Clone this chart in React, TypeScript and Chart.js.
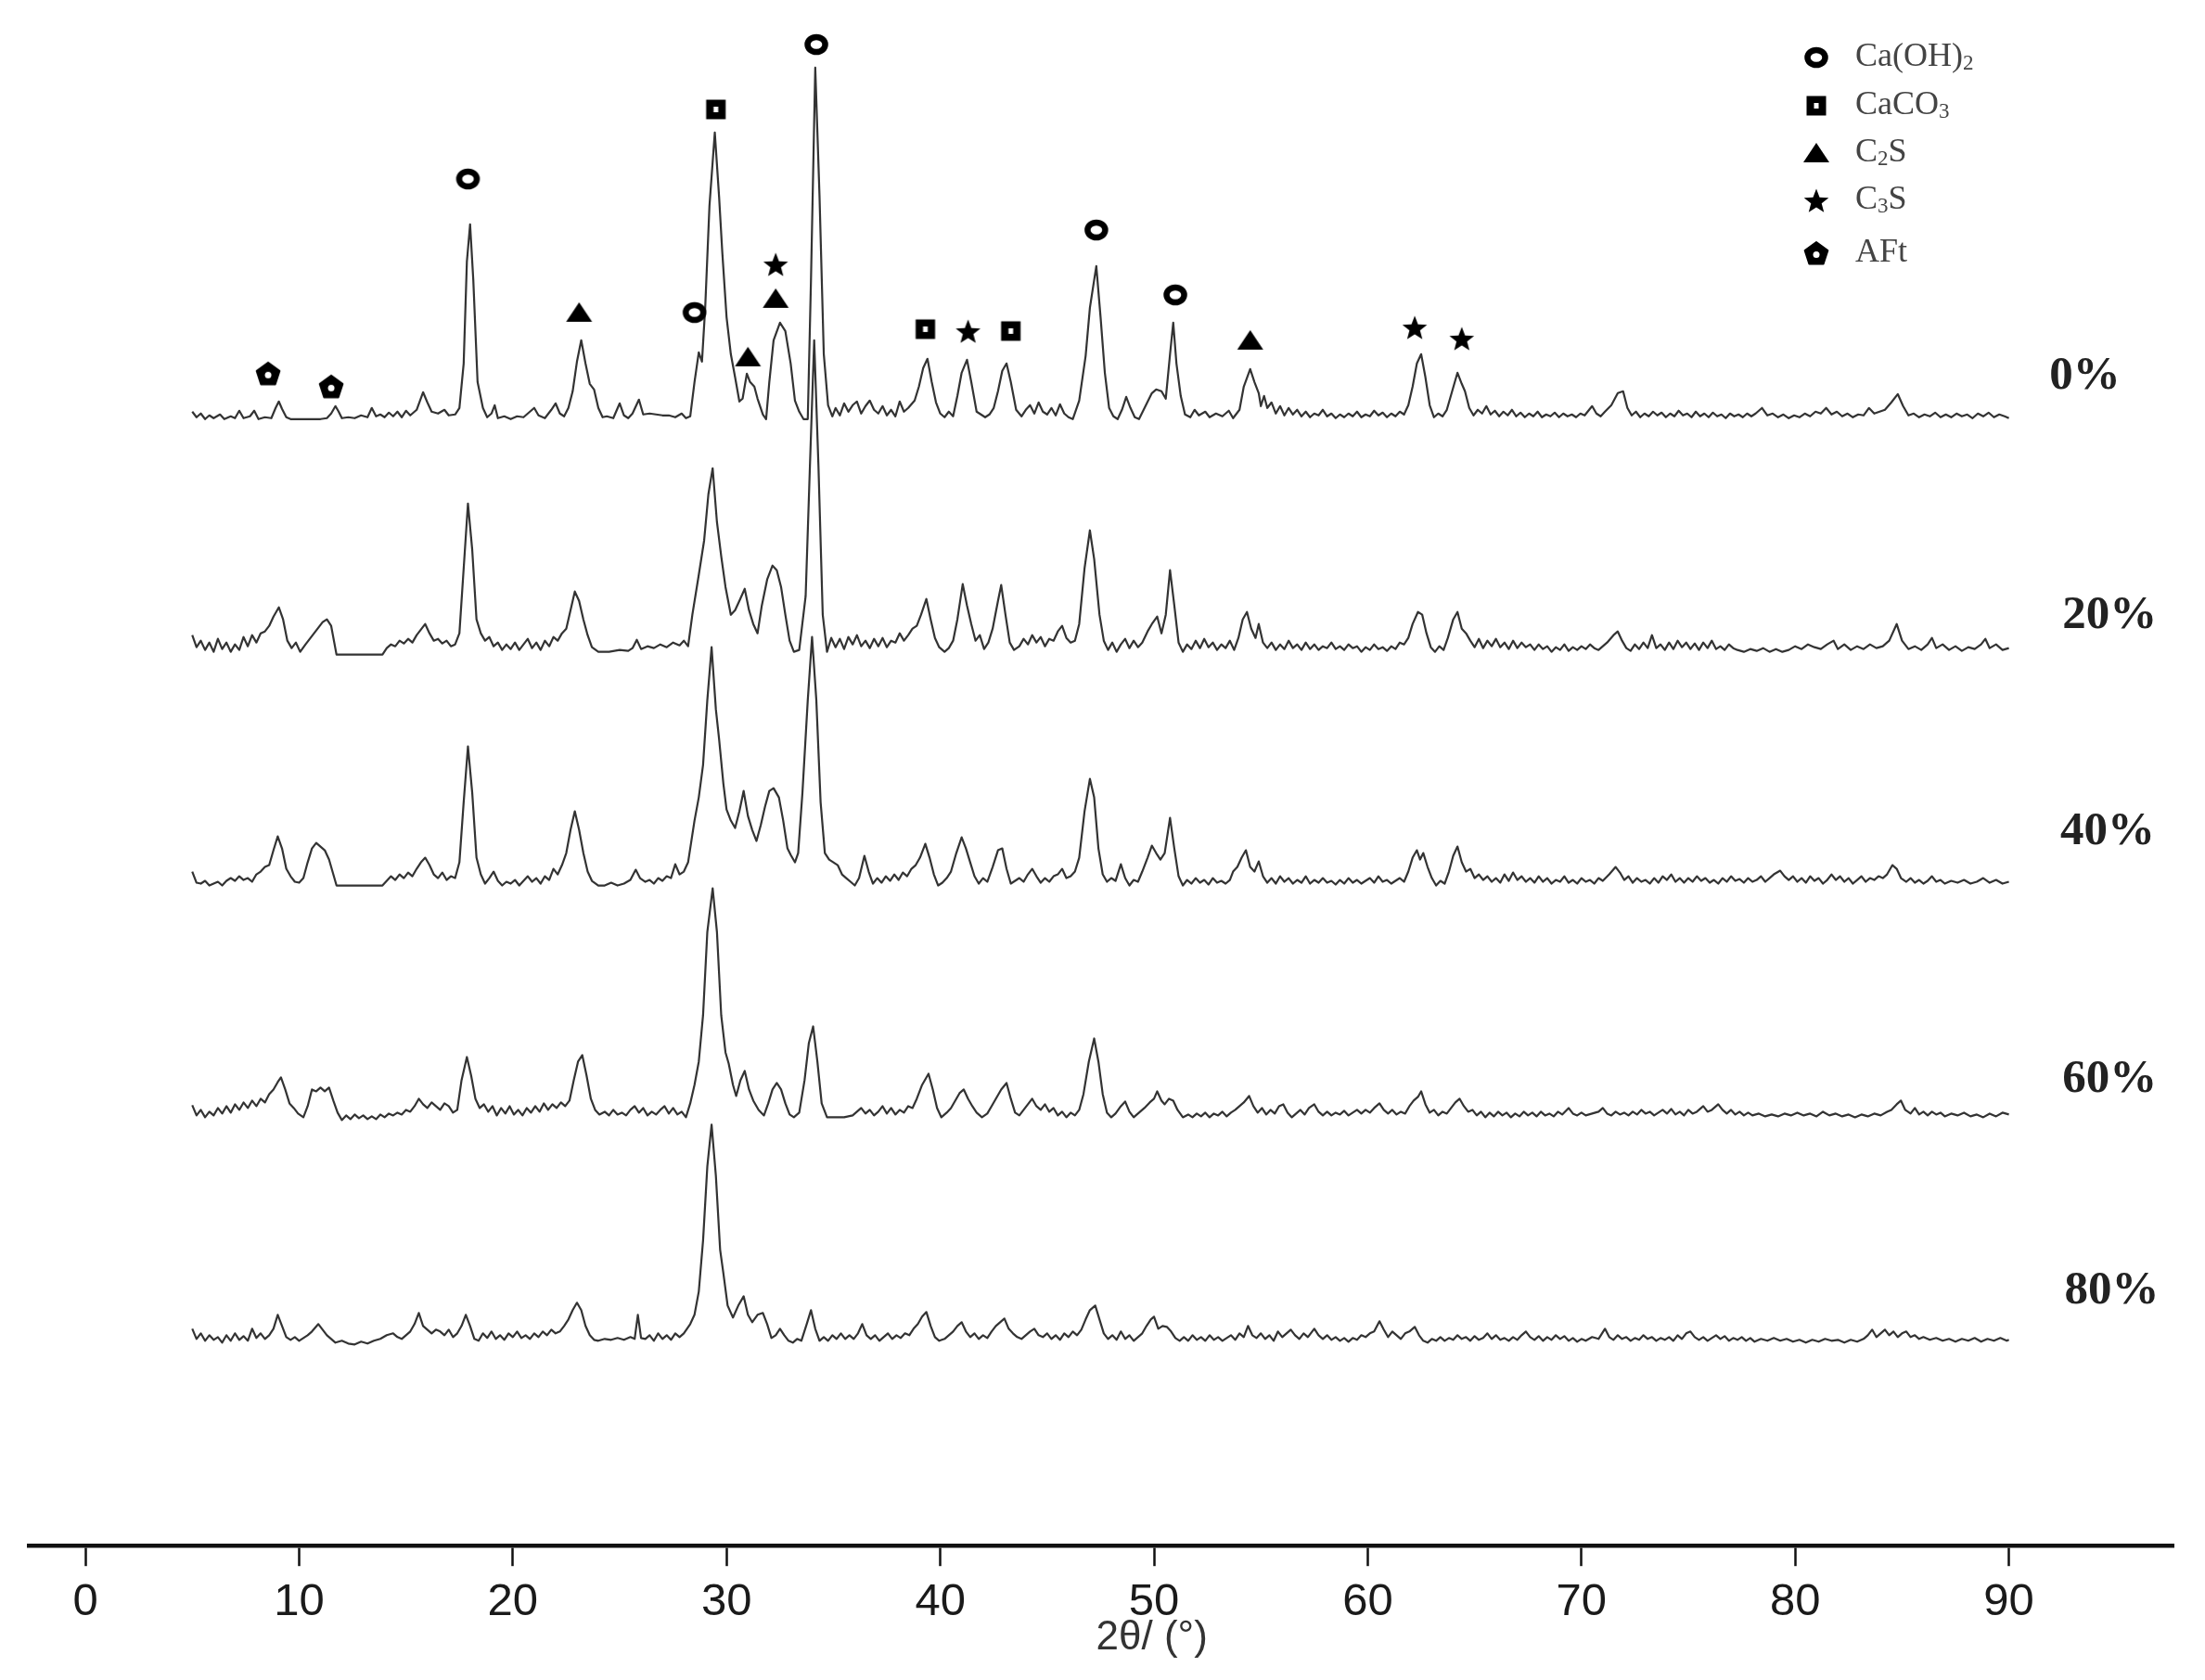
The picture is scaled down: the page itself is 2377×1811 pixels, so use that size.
import React, { useEffect, useRef } from "react";
import { Chart, registerables } from "chart.js";

Chart.register(...registerables);

// ---------------- data ----------------
const X_TICKS = [0, 10, 20, 30, 40, 50, 60, 70, 80, 90];
const SERIES_NAMES = ["0%", "20%", "40%", "60%", "80%"];
// vertical stacking offsets (a.u.) of each pattern
const OFFSETS = [1215, 964, 712, 462, 219];

// intensity above each pattern's own baseline, [2θ, I]
const S0 = [
  [5.0,8],[5.2,2],[5.4,6],[5.6,0],[5.8,4],[6.0,1],[6.3,5],[6.5,0],[6.8,3],[7.0,1],[7.2,9],[7.4,1],[7.7,3],[7.9,9],[8.1,0],[8.4,2],[8.7,1],[8.9,12],[9.05,19],[9.2,11],[9.4,2],[9.6,0],[10.0,0],[10.5,0],[11.0,0],[11.3,1],[11.5,6],[11.7,14],[11.85,8],[12.0,1],[12.3,2],[12.6,1],[12.9,4],[13.2,2],[13.4,12],[13.6,3],[13.8,5],[14.0,2],[14.2,7],[14.4,3],[14.6,8],[14.8,2],[15.0,9],[15.2,4],[15.5,10],[15.8,29],[16.0,18],[16.2,8],[16.5,6],[16.8,10],[17.0,4],[17.3,5],[17.5,12],[17.7,60],[17.85,170],[18.0,210],[18.15,150],[18.35,40],[18.6,12],[18.8,2],[19.0,6],[19.15,15],[19.3,1],[19.6,3],[19.9,0],[20.2,3],[20.5,2],[20.8,8],[21.0,12],[21.2,4],[21.5,1],[21.8,10],[22.0,17],[22.2,6],[22.4,3],[22.6,12],[22.8,30],[23.0,62],[23.2,85],[23.4,60],[23.6,38],[23.8,32],[24.0,12],[24.2,2],[24.4,3],[24.7,1],[25.0,17],[25.2,4],[25.4,1],[25.6,6],[25.9,21],[26.1,5],[26.4,6],[26.7,5],[27.0,4],[27.3,4],[27.6,2],[27.9,6],[28.1,1],[28.3,3],[28.5,40],[28.7,72],[28.85,62],[29.0,120],[29.2,230],[29.45,309],[29.65,240],[29.8,180],[30.0,110],[30.2,70],[30.4,45],[30.6,19],[30.75,22],[30.95,49],[31.1,40],[31.3,35],[31.45,22],[31.7,5],[31.85,0],[32.0,40],[32.2,85],[32.5,104],[32.75,95],[33.0,60],[33.2,20],[33.4,8],[33.6,0],[33.8,0],[33.95,150],[34.15,379],[34.35,240],[34.55,70],[34.75,15],[34.95,3],[35.1,12],[35.3,4],[35.5,17],[35.7,8],[35.9,15],[36.1,19],[36.3,6],[36.5,14],[36.7,20],[36.9,10],[37.1,6],[37.3,14],[37.5,4],[37.7,10],[37.9,3],[38.1,19],[38.3,8],[38.5,12],[38.8,20],[39.0,35],[39.2,55],[39.4,65],[39.6,40],[39.8,18],[40.0,6],[40.2,2],[40.4,8],[40.6,3],[40.8,25],[41.0,50],[41.25,64],[41.45,40],[41.7,8],[41.9,5],[42.1,2],[42.3,5],[42.5,12],[42.7,30],[42.9,52],[43.1,60],[43.3,40],[43.55,10],[43.8,3],[44.0,10],[44.2,15],[44.4,6],[44.6,18],[44.8,8],[45.0,5],[45.2,12],[45.4,4],[45.6,16],[45.8,6],[46.0,2],[46.2,0],[46.5,20],[46.8,68],[47.0,120],[47.3,165],[47.5,110],[47.7,50],[47.9,12],[48.1,3],[48.3,0],[48.5,10],[48.7,24],[48.9,12],[49.1,2],[49.3,0],[49.6,14],[49.9,28],[50.1,32],[50.35,30],[50.55,22],[50.75,70],[50.9,104],[51.05,60],[51.25,25],[51.45,5],[51.7,2],[51.9,10],[52.1,4],[52.4,8],[52.6,2],[52.9,6],[53.2,3],[53.5,9],[53.7,1],[54.0,10],[54.2,35],[54.5,54],[54.7,40],[54.9,28],[55.0,14],[55.15,25],[55.3,12],[55.5,18],[55.7,6],[55.9,14],[56.1,4],[56.3,12],[56.5,5],[56.7,10],[56.9,3],[57.1,8],[57.3,2],[57.5,6],[57.7,4],[57.9,10],[58.1,3],[58.3,6],[58.5,1],[58.7,5],[58.9,2],[59.1,6],[59.3,3],[59.5,8],[59.7,2],[59.9,5],[60.1,3],[60.3,9],[60.5,4],[60.7,7],[60.9,2],[61.1,6],[61.3,3],[61.5,8],[61.7,5],[61.9,15],[62.1,35],[62.3,60],[62.5,70],[62.7,45],[62.9,15],[63.1,2],[63.3,6],[63.5,3],[63.7,10],[63.95,30],[64.2,50],[64.4,38],[64.55,30],[64.75,12],[64.95,4],[65.15,10],[65.35,6],[65.55,14],[65.75,5],[65.95,9],[66.15,3],[66.35,8],[66.55,4],[66.75,10],[66.95,3],[67.15,7],[67.35,2],[67.55,6],[67.75,3],[67.95,8],[68.15,2],[68.35,5],[68.55,3],[68.75,7],[68.95,2],[69.15,6],[69.35,3],[69.55,5],[69.75,2],[69.95,6],[70.15,4],[70.5,14],[70.7,6],[70.9,3],[71.1,8],[71.4,15],[71.7,28],[71.95,30],[72.15,12],[72.35,4],[72.55,8],[72.75,2],[72.95,6],[73.15,3],[73.35,8],[73.55,4],[73.75,7],[73.95,2],[74.15,6],[74.35,3],[74.55,9],[74.75,4],[74.95,6],[75.15,2],[75.35,8],[75.55,3],[75.75,6],[75.95,2],[76.15,7],[76.35,3],[76.55,5],[76.75,1],[76.95,6],[77.15,3],[77.35,5],[77.55,2],[77.75,6],[77.95,3],[78.15,6],[78.45,12],[78.7,4],[78.95,6],[79.2,2],[79.45,5],[79.7,1],[79.95,4],[80.2,2],[80.45,6],[80.7,3],[80.95,8],[81.2,6],[81.45,12],[81.7,5],[81.95,8],[82.2,3],[82.45,6],[82.7,2],[82.95,5],[83.2,4],[83.45,12],[83.7,6],[83.95,8],[84.2,10],[84.5,18],[84.8,27],[85.05,14],[85.3,4],[85.55,6],[85.8,2],[86.05,5],[86.3,3],[86.55,7],[86.8,2],[87.05,5],[87.3,2],[87.55,6],[87.8,3],[88.05,5],[88.3,1],[88.55,6],[88.8,3],[89.05,7],[89.3,2],[89.55,5],[89.8,3],[90.0,1]
];

const S20 = [
  [5.0,18],[5.2,5],[5.4,12],[5.6,2],[5.8,10],[6.0,0],[6.2,14],[6.4,3],[6.6,10],[6.8,0],[7.0,8],[7.2,2],[7.4,16],[7.6,6],[7.8,18],[8.0,10],[8.2,20],[8.4,22],[8.6,28],[8.8,38],[9.05,48],[9.25,35],[9.45,12],[9.65,4],[9.85,10],[10.05,0],[10.3,8],[10.5,14],[10.7,20],[10.9,26],[11.1,32],[11.3,35],[11.5,28],[11.75,-3],[13.9,-3],[14.1,4],[14.3,8],[14.5,6],[14.7,12],[14.9,9],[15.1,14],[15.3,10],[15.5,18],[15.7,24],[15.9,30],[16.1,20],[16.3,12],[16.5,14],[16.7,9],[16.9,12],[17.1,6],[17.3,8],[17.5,20],[17.7,90],[17.9,160],[18.1,110],[18.3,35],[18.5,20],[18.7,12],[18.9,16],[19.1,6],[19.3,10],[19.5,2],[19.7,8],[19.9,3],[20.1,10],[20.3,2],[20.5,8],[20.7,14],[20.9,4],[21.1,10],[21.3,2],[21.5,12],[21.7,6],[21.9,16],[22.1,12],[22.3,20],[22.5,25],[22.7,45],[22.9,65],[23.1,55],[23.3,35],[23.5,18],[23.7,5],[24.0,0],[24.5,0],[25.0,2],[25.4,1],[25.6,4],[25.8,13],[26.0,3],[26.3,6],[26.6,4],[26.9,8],[27.2,5],[27.5,10],[27.8,7],[28.0,12],[28.2,6],[28.4,40],[28.7,83],[28.95,120],[29.15,170],[29.35,198],[29.55,140],[29.75,103],[29.95,70],[30.2,40],[30.4,45],[30.6,55],[30.85,68],[31.05,45],[31.25,30],[31.45,20],[31.65,50],[31.9,78],[32.15,93],[32.35,88],[32.55,70],[32.75,40],[32.95,12],[33.15,0],[33.4,2],[33.7,60],[33.9,200],[34.1,336],[34.3,200],[34.5,40],[34.7,0],[34.9,15],[35.1,5],[35.3,14],[35.5,3],[35.7,16],[35.9,8],[36.1,18],[36.3,6],[36.5,12],[36.7,4],[36.9,14],[37.1,6],[37.3,15],[37.5,5],[37.7,12],[37.9,10],[38.1,20],[38.3,12],[38.5,18],[38.7,25],[38.9,28],[39.1,40],[39.35,57],[39.55,35],[39.75,15],[39.95,5],[40.2,0],[40.4,4],[40.6,12],[40.8,35],[41.05,73],[41.25,50],[41.45,30],[41.65,12],[41.85,18],[42.05,3],[42.25,10],[42.45,25],[42.7,55],[42.85,72],[43.05,40],[43.25,10],[43.45,2],[43.7,6],[43.9,14],[44.1,8],[44.3,18],[44.5,10],[44.7,16],[44.9,6],[45.1,14],[45.3,12],[45.5,22],[45.7,28],[45.9,15],[46.1,10],[46.3,12],[46.5,30],[46.75,90],[47.0,131],[47.2,100],[47.45,40],[47.65,12],[47.85,2],[48.05,10],[48.25,0],[48.45,8],[48.65,14],[48.85,4],[49.05,12],[49.25,5],[49.45,10],[49.7,22],[49.9,30],[50.15,38],[50.35,20],[50.55,40],[50.75,88],[50.95,50],[51.15,10],[51.35,0],[51.55,8],[51.75,3],[51.95,12],[52.15,4],[52.35,14],[52.55,5],[52.75,10],[52.95,2],[53.15,8],[53.35,4],[53.55,12],[53.75,2],[53.95,15],[54.15,35],[54.35,43],[54.55,25],[54.75,15],[54.9,30],[55.1,10],[55.3,4],[55.5,10],[55.7,2],[55.9,8],[56.1,3],[56.3,12],[56.5,4],[56.7,8],[56.9,2],[57.1,10],[57.3,3],[57.5,8],[57.7,2],[57.9,6],[58.1,4],[58.3,10],[58.5,3],[58.7,6],[58.9,2],[59.1,8],[59.3,4],[59.5,6],[59.7,0],[59.9,5],[60.1,2],[60.3,8],[60.5,3],[60.7,5],[60.9,1],[61.1,6],[61.3,3],[61.5,10],[61.7,8],[61.9,15],[62.1,30],[62.35,43],[62.55,40],[62.75,20],[62.95,5],[63.15,0],[63.35,6],[63.55,2],[63.75,15],[64.0,35],[64.2,43],[64.4,25],[64.6,20],[64.8,12],[65.0,5],[65.2,14],[65.4,4],[65.6,12],[65.8,6],[66.0,14],[66.2,5],[66.4,10],[66.6,3],[66.8,12],[67.0,4],[67.2,10],[67.4,5],[67.6,8],[67.8,2],[68.0,8],[68.2,3],[68.4,6],[68.6,0],[68.8,5],[69.0,2],[69.2,8],[69.4,1],[69.6,5],[69.8,2],[70.0,6],[70.2,3],[70.4,8],[70.6,4],[70.8,2],[71.0,6],[71.2,10],[71.5,18],[71.7,22],[71.9,12],[72.1,4],[72.3,1],[72.5,8],[72.7,3],[72.9,10],[73.1,4],[73.3,18],[73.5,4],[73.7,8],[73.9,2],[74.1,10],[74.3,3],[74.5,12],[74.7,5],[74.9,10],[75.1,3],[75.3,9],[75.5,2],[75.7,10],[75.9,4],[76.1,12],[76.3,3],[76.5,6],[76.7,2],[76.9,8],[77.1,4],[77.3,2],[77.6,0],[77.9,3],[78.2,1],[78.5,4],[78.8,0],[79.1,3],[79.4,0],[79.7,2],[80.0,6],[80.3,3],[80.6,8],[80.9,5],[81.2,3],[81.5,8],[81.8,12],[82.0,3],[82.3,8],[82.6,2],[82.9,6],[83.2,3],[83.5,8],[83.8,4],[84.1,6],[84.4,12],[84.75,30],[85.0,12],[85.3,3],[85.6,6],[85.9,2],[86.2,8],[86.4,15],[86.6,4],[86.9,8],[87.2,2],[87.5,6],[87.8,1],[88.1,5],[88.4,3],[88.7,8],[88.9,14],[89.1,4],[89.4,8],[89.7,2],[90.0,4]
];

const S40 = [
  [5.0,15],[5.2,3],[5.4,2],[5.6,5],[5.8,0],[6.0,2],[6.2,4],[6.4,0],[6.6,5],[6.8,8],[7.0,5],[7.2,10],[7.4,6],[7.6,8],[7.8,4],[8.0,12],[8.2,15],[8.4,20],[8.6,22],[8.8,38],[9.0,53],[9.2,40],[9.4,18],[9.6,10],[9.8,4],[10.0,3],[10.2,8],[10.4,25],[10.6,40],[10.8,46],[11.0,42],[11.2,38],[11.4,28],[11.6,12],[11.75,0],[13.9,0],[14.1,5],[14.3,10],[14.5,6],[14.7,12],[14.9,8],[15.1,14],[15.3,10],[15.5,18],[15.7,25],[15.9,30],[16.1,22],[16.3,12],[16.5,8],[16.7,14],[16.9,6],[17.1,10],[17.3,8],[17.5,25],[17.7,90],[17.9,150],[18.1,100],[18.3,30],[18.5,12],[18.7,2],[18.9,8],[19.1,15],[19.3,5],[19.5,0],[19.7,4],[19.9,2],[20.1,6],[20.3,0],[20.5,5],[20.7,10],[20.9,4],[21.1,8],[21.3,2],[21.5,10],[21.7,6],[21.9,18],[22.1,12],[22.3,22],[22.5,35],[22.7,60],[22.9,80],[23.1,60],[23.3,35],[23.5,15],[23.7,5],[24.0,0],[24.3,0],[24.6,3],[24.9,0],[25.2,2],[25.5,6],[25.75,17],[25.95,8],[26.2,4],[26.4,6],[26.6,2],[26.8,8],[27.0,5],[27.2,10],[27.4,8],[27.6,23],[27.8,12],[28.0,15],[28.2,25],[28.5,70],[28.7,95],[28.9,130],[29.1,200],[29.3,257],[29.5,190],[29.65,158],[29.85,110],[30.0,82],[30.2,70],[30.4,62],[30.6,80],[30.8,102],[31.0,75],[31.2,60],[31.4,48],[31.6,65],[31.8,85],[32.0,102],[32.2,105],[32.45,95],[32.65,70],[32.85,40],[33.0,33],[33.2,25],[33.35,35],[33.55,100],[33.8,200],[34.0,268],[34.2,200],[34.4,90],[34.6,35],[34.8,28],[35.0,25],[35.2,22],[35.4,12],[35.6,8],[35.8,4],[36.0,0],[36.2,8],[36.45,32],[36.65,15],[36.85,2],[37.05,8],[37.25,3],[37.45,10],[37.65,5],[37.85,12],[38.05,6],[38.25,14],[38.45,10],[38.65,18],[38.85,22],[39.05,30],[39.3,45],[39.5,30],[39.7,12],[39.9,0],[40.1,3],[40.3,8],[40.5,15],[40.75,35],[41.0,52],[41.2,40],[41.4,25],[41.6,10],[41.8,2],[42.0,8],[42.2,4],[42.45,20],[42.7,38],[42.9,40],[43.1,18],[43.3,2],[43.5,5],[43.7,8],[43.9,4],[44.1,12],[44.3,18],[44.5,10],[44.7,3],[44.9,8],[45.1,4],[45.3,10],[45.5,12],[45.7,18],[45.9,8],[46.1,10],[46.3,15],[46.5,30],[46.75,80],[47.0,115],[47.2,95],[47.4,40],[47.6,12],[47.8,4],[48.0,8],[48.2,5],[48.45,23],[48.65,8],[48.85,0],[49.05,6],[49.25,4],[49.45,15],[49.7,30],[49.9,43],[50.1,35],[50.3,28],[50.5,35],[50.75,73],[50.95,40],[51.15,10],[51.35,0],[51.55,6],[51.75,2],[51.95,8],[52.15,3],[52.35,6],[52.55,1],[52.75,8],[52.95,3],[53.15,5],[53.35,2],[53.55,6],[53.7,15],[53.9,20],[54.1,30],[54.3,38],[54.5,20],[54.7,15],[54.9,26],[55.1,10],[55.3,3],[55.5,8],[55.7,2],[55.9,10],[56.1,4],[56.3,8],[56.5,2],[56.7,6],[56.9,3],[57.1,10],[57.3,2],[57.5,6],[57.7,3],[57.9,8],[58.1,3],[58.3,5],[58.5,1],[58.7,6],[58.9,2],[59.1,8],[59.3,3],[59.5,6],[59.7,2],[59.9,5],[60.1,8],[60.3,3],[60.5,10],[60.7,4],[60.9,6],[61.1,2],[61.3,5],[61.5,8],[61.7,4],[61.9,15],[62.1,30],[62.3,38],[62.45,28],[62.6,35],[62.8,20],[63.0,8],[63.2,0],[63.4,5],[63.6,2],[63.8,15],[64.0,32],[64.2,42],[64.4,25],[64.6,15],[64.8,18],[65.0,8],[65.2,12],[65.4,6],[65.6,10],[65.8,4],[66.0,8],[66.2,3],[66.4,12],[66.6,5],[66.8,14],[67.0,6],[67.2,10],[67.4,4],[67.6,8],[67.8,3],[68.0,10],[68.2,4],[68.4,8],[68.6,2],[68.8,6],[69.0,4],[69.2,10],[69.4,3],[69.6,6],[69.8,2],[70.0,8],[70.2,4],[70.4,6],[70.6,2],[70.8,8],[71.0,5],[71.3,12],[71.6,20],[71.8,14],[72.0,6],[72.2,10],[72.4,3],[72.6,8],[72.8,4],[73.0,6],[73.2,2],[73.4,8],[73.6,3],[73.8,10],[74.0,6],[74.2,12],[74.4,4],[74.6,8],[74.8,3],[75.0,8],[75.2,4],[75.4,10],[75.6,5],[75.8,8],[76.0,3],[76.2,6],[76.4,2],[76.6,8],[76.8,4],[77.0,10],[77.2,5],[77.4,7],[77.6,3],[77.8,8],[78.0,4],[78.2,6],[78.4,10],[78.6,4],[78.8,8],[79.0,12],[79.3,16],[79.5,10],[79.7,6],[79.9,10],[80.1,4],[80.3,8],[80.5,3],[80.7,10],[80.9,5],[81.1,8],[81.3,2],[81.5,6],[81.7,12],[81.9,6],[82.1,10],[82.3,4],[82.5,8],[82.7,2],[82.9,6],[83.1,10],[83.3,4],[83.5,8],[83.7,6],[83.9,10],[84.1,8],[84.3,12],[84.55,22],[84.75,18],[84.95,8],[85.2,4],[85.4,8],[85.6,3],[85.8,6],[86.0,2],[86.2,5],[86.4,10],[86.6,4],[86.8,6],[87.0,2],[87.3,5],[87.6,3],[87.9,6],[88.2,2],[88.5,4],[88.8,8],[89.1,3],[89.4,6],[89.7,2],[90.0,4]
];

const S60 = [
  [5.0,13],[5.2,2],[5.4,8],[5.6,0],[5.8,6],[6.0,2],[6.2,10],[6.4,4],[6.6,12],[6.8,5],[7.0,14],[7.2,8],[7.4,16],[7.6,10],[7.8,18],[8.0,12],[8.2,20],[8.4,16],[8.6,25],[8.8,30],[9.0,38],[9.15,43],[9.35,30],[9.55,15],[9.75,10],[9.95,4],[10.2,0],[10.4,12],[10.6,30],[10.8,28],[11.0,32],[11.2,28],[11.4,32],[11.6,18],[11.8,5],[12.0,-3],[12.2,2],[12.4,-2],[12.6,3],[12.8,-1],[13.0,2],[13.2,-2],[13.4,1],[13.6,-2],[13.8,3],[14.0,0],[14.2,4],[14.4,2],[14.6,5],[14.8,3],[15.0,8],[15.2,6],[15.4,12],[15.6,20],[15.8,14],[16.0,10],[16.2,16],[16.4,12],[16.6,8],[16.8,15],[17.0,12],[17.2,5],[17.4,8],[17.6,40],[17.85,65],[18.05,45],[18.25,20],[18.45,10],[18.65,14],[18.85,6],[19.05,12],[19.25,2],[19.45,10],[19.65,4],[19.85,12],[20.05,3],[20.25,8],[20.45,2],[20.65,10],[20.85,5],[21.05,12],[21.25,6],[21.45,15],[21.65,8],[21.85,14],[22.05,10],[22.25,16],[22.45,12],[22.65,18],[22.85,40],[23.05,60],[23.25,67],[23.45,45],[23.65,20],[23.85,8],[24.05,3],[24.3,6],[24.5,2],[24.7,8],[24.9,3],[25.1,5],[25.3,2],[25.5,8],[25.7,12],[25.9,5],[26.1,10],[26.3,2],[26.5,6],[26.7,3],[26.9,8],[27.1,12],[27.3,4],[27.5,10],[27.7,3],[27.9,6],[28.1,0],[28.3,15],[28.5,35],[28.7,60],[28.9,110],[29.1,200],[29.35,247],[29.55,200],[29.75,110],[29.95,70],[30.1,58],[30.3,35],[30.45,23],[30.65,40],[30.85,50],[31.05,30],[31.25,18],[31.5,8],[31.75,2],[31.95,15],[32.15,30],[32.35,37],[32.55,30],[32.75,15],[32.95,3],[33.15,0],[33.4,5],[33.65,40],[33.85,80],[34.05,98],[34.25,60],[34.45,15],[34.7,0],[35.0,0],[35.5,0],[35.9,2],[36.1,6],[36.3,10],[36.5,4],[36.7,8],[36.9,2],[37.1,6],[37.3,12],[37.5,4],[37.7,10],[37.9,3],[38.1,8],[38.3,5],[38.5,12],[38.7,10],[38.9,20],[39.15,35],[39.45,47],[39.65,30],[39.85,10],[40.05,0],[40.3,5],[40.5,10],[40.7,18],[40.9,26],[41.1,30],[41.3,20],[41.5,12],[41.7,5],[41.95,0],[42.2,4],[42.4,12],[42.6,20],[42.85,30],[43.1,37],[43.3,20],[43.5,5],[43.7,2],[43.9,8],[44.1,14],[44.3,20],[44.5,12],[44.7,8],[44.9,14],[45.1,6],[45.3,10],[45.5,2],[45.7,6],[45.9,0],[46.1,5],[46.3,2],[46.5,8],[46.7,25],[46.95,60],[47.2,85],[47.4,60],[47.6,25],[47.8,5],[48.0,0],[48.2,4],[48.45,12],[48.65,17],[48.85,6],[49.05,0],[49.3,5],[49.55,10],[49.8,16],[50.0,20],[50.15,28],[50.35,18],[50.5,14],[50.7,20],[50.9,18],[51.1,8],[51.35,0],[51.6,3],[51.8,0],[52.0,4],[52.2,1],[52.4,5],[52.6,0],[52.8,4],[53.0,2],[53.2,6],[53.4,1],[53.6,5],[53.8,8],[54.0,12],[54.2,16],[54.45,23],[54.65,12],[54.85,5],[55.05,10],[55.25,3],[55.45,8],[55.65,4],[55.85,12],[56.05,14],[56.25,5],[56.45,0],[56.65,4],[56.85,8],[57.05,3],[57.25,10],[57.5,14],[57.7,6],[57.9,2],[58.1,6],[58.3,2],[58.5,5],[58.7,3],[58.9,7],[59.1,2],[59.3,5],[59.5,8],[59.7,4],[59.9,8],[60.1,5],[60.3,10],[60.55,15],[60.75,8],[60.95,4],[61.15,8],[61.35,3],[61.55,6],[61.75,4],[61.95,12],[62.15,18],[62.35,22],[62.5,28],[62.7,14],[62.9,5],[63.1,8],[63.3,2],[63.5,6],[63.7,4],[63.9,10],[64.1,16],[64.3,20],[64.5,12],[64.7,6],[64.9,8],[65.1,2],[65.3,6],[65.5,0],[65.7,5],[65.9,1],[66.1,6],[66.3,2],[66.5,5],[66.7,0],[66.9,4],[67.1,1],[67.3,6],[67.5,2],[67.7,5],[67.9,1],[68.1,6],[68.3,2],[68.5,4],[68.7,1],[68.9,6],[69.1,3],[69.4,10],[69.6,4],[69.8,2],[70.0,5],[70.2,2],[70.5,4],[70.8,6],[71.0,10],[71.2,4],[71.4,2],[71.6,6],[71.8,3],[72.0,5],[72.2,2],[72.4,6],[72.6,3],[72.8,8],[73.0,4],[73.2,6],[73.4,2],[73.6,5],[73.8,8],[74.0,4],[74.2,9],[74.4,3],[74.6,6],[74.8,2],[75.0,8],[75.2,4],[75.4,6],[75.7,12],[75.9,6],[76.1,8],[76.4,14],[76.6,8],[76.8,4],[77.0,8],[77.2,3],[77.4,6],[77.6,2],[77.8,5],[78.0,2],[78.3,4],[78.6,1],[78.9,3],[79.2,1],[79.5,4],[79.8,2],[80.1,5],[80.4,2],[80.7,4],[81.0,1],[81.3,6],[81.6,2],[81.9,4],[82.2,1],[82.5,3],[82.8,0],[83.1,3],[83.4,1],[83.7,4],[84.0,2],[84.3,6],[84.5,8],[84.75,14],[84.95,18],[85.15,8],[85.4,4],[85.6,10],[85.8,3],[86.0,6],[86.2,2],[86.4,6],[86.6,3],[86.8,5],[87.0,1],[87.3,4],[87.6,2],[87.9,5],[88.2,1],[88.5,3],[88.8,0],[89.1,4],[89.4,1],[89.7,5],[90.0,3]
];

const S80 = [
  [5.0,15],[5.2,4],[5.4,10],[5.6,2],[5.8,8],[6.0,3],[6.2,6],[6.4,0],[6.6,8],[6.8,2],[7.0,10],[7.2,3],[7.4,7],[7.6,2],[7.8,15],[8.0,5],[8.2,10],[8.4,4],[8.6,8],[8.8,15],[9.0,30],[9.2,18],[9.4,6],[9.6,3],[9.8,6],[10.0,2],[10.2,5],[10.4,8],[10.6,12],[10.9,20],[11.1,14],[11.3,8],[11.5,4],[11.7,0],[12.0,2],[12.3,-1],[12.6,-2],[12.9,1],[13.2,-1],[13.5,2],[13.8,4],[14.1,8],[14.4,10],[14.6,6],[14.8,4],[15.0,8],[15.2,12],[15.4,20],[15.6,32],[15.8,18],[16.0,14],[16.2,10],[16.4,14],[16.6,12],[16.8,8],[17.0,14],[17.2,6],[17.4,10],[17.6,18],[17.8,30],[18.0,18],[18.2,4],[18.4,2],[18.6,10],[18.8,5],[19.0,12],[19.2,4],[19.4,8],[19.6,3],[19.8,10],[20.0,6],[20.2,12],[20.4,5],[20.6,8],[20.8,4],[21.0,10],[21.2,6],[21.4,12],[21.6,8],[21.8,14],[22.0,10],[22.2,12],[22.4,18],[22.6,25],[22.8,35],[23.0,43],[23.2,35],[23.4,18],[23.6,8],[23.8,3],[24.0,2],[24.3,4],[24.6,3],[24.9,5],[25.2,3],[25.5,6],[25.7,4],[25.85,30],[26.0,5],[26.2,4],[26.4,8],[26.6,2],[26.8,10],[27.0,4],[27.2,8],[27.4,3],[27.6,10],[27.8,6],[28.0,10],[28.3,20],[28.5,30],[28.7,55],[28.9,110],[29.1,190],[29.3,235],[29.5,180],[29.7,100],[29.85,75],[30.05,40],[30.3,27],[30.55,40],[30.8,50],[31.0,30],[31.2,22],[31.45,30],[31.7,32],[31.9,20],[32.1,5],[32.3,8],[32.5,15],[32.7,8],[32.9,2],[33.1,0],[33.3,4],[33.5,2],[33.75,20],[33.95,35],[34.15,15],[34.35,2],[34.55,6],[34.75,2],[34.95,8],[35.15,4],[35.35,10],[35.55,4],[35.75,8],[35.95,4],[36.15,10],[36.35,20],[36.55,8],[36.75,4],[36.95,8],[37.15,2],[37.35,6],[37.55,10],[37.75,4],[37.95,8],[38.15,5],[38.35,10],[38.55,8],[38.75,15],[38.95,20],[39.15,28],[39.35,33],[39.55,18],[39.75,6],[39.95,2],[40.2,4],[40.4,8],[40.6,12],[40.8,18],[41.0,22],[41.2,12],[41.4,6],[41.6,10],[41.8,4],[42.0,8],[42.2,5],[42.4,12],[42.6,18],[42.8,22],[43.0,26],[43.2,15],[43.4,10],[43.6,6],[43.8,4],[44.0,8],[44.2,12],[44.4,15],[44.6,8],[44.8,6],[45.0,10],[45.2,4],[45.4,8],[45.6,3],[45.8,10],[46.0,6],[46.2,12],[46.4,8],[46.6,14],[46.8,25],[47.0,35],[47.25,40],[47.45,25],[47.65,10],[47.85,4],[48.05,8],[48.25,3],[48.45,12],[48.65,4],[48.85,8],[49.05,2],[49.25,6],[49.45,10],[49.65,18],[49.85,25],[50.0,28],[50.2,15],[50.4,18],[50.6,17],[50.8,12],[51.0,5],[51.2,2],[51.4,6],[51.6,2],[51.8,8],[52.0,3],[52.2,6],[52.4,2],[52.6,8],[52.8,3],[53.0,6],[53.2,2],[53.4,5],[53.6,8],[53.8,3],[54.0,10],[54.2,6],[54.4,18],[54.6,8],[54.8,5],[55.0,10],[55.2,4],[55.4,8],[55.6,2],[55.8,12],[56.0,6],[56.2,10],[56.4,14],[56.6,8],[56.8,4],[57.0,10],[57.2,6],[57.5,15],[57.7,8],[57.9,4],[58.1,8],[58.3,3],[58.5,6],[58.7,2],[58.9,5],[59.1,1],[59.3,5],[59.5,3],[59.7,8],[59.9,6],[60.1,10],[60.3,12],[60.55,23],[60.75,14],[60.95,6],[61.15,12],[61.35,8],[61.55,4],[61.75,10],[61.95,12],[62.2,17],[62.4,8],[62.6,2],[62.8,0],[63.0,4],[63.2,2],[63.4,6],[63.6,2],[63.8,5],[64.0,3],[64.2,8],[64.4,4],[64.6,6],[64.8,2],[65.0,7],[65.2,3],[65.4,5],[65.6,10],[65.8,4],[66.0,8],[66.2,3],[66.4,5],[66.6,2],[66.8,6],[67.0,3],[67.2,8],[67.4,12],[67.6,6],[67.8,3],[68.0,7],[68.2,2],[68.4,6],[68.6,3],[68.8,8],[69.0,4],[69.2,7],[69.4,2],[69.6,5],[69.8,1],[70.0,4],[70.2,2],[70.5,6],[70.8,4],[71.1,15],[71.3,6],[71.5,3],[71.7,8],[71.9,4],[72.1,6],[72.3,2],[72.5,5],[72.7,3],[72.9,8],[73.1,4],[73.3,6],[73.5,2],[73.7,5],[73.9,3],[74.1,6],[74.3,2],[74.5,8],[74.7,4],[74.9,10],[75.1,12],[75.3,6],[75.5,3],[75.7,6],[75.9,2],[76.1,5],[76.3,8],[76.5,4],[76.7,7],[76.9,2],[77.1,5],[77.3,3],[77.5,6],[77.7,2],[77.9,5],[78.1,1],[78.4,4],[78.7,2],[79.0,5],[79.3,2],[79.6,4],[79.9,1],[80.2,3],[80.5,0],[80.8,3],[81.1,1],[81.4,4],[81.7,2],[82.0,3],[82.3,0],[82.6,3],[82.9,1],[83.2,4],[83.4,8],[83.6,14],[83.8,6],[84.0,10],[84.2,14],[84.4,8],[84.6,12],[84.8,6],[85.0,10],[85.2,12],[85.4,6],[85.6,8],[85.8,4],[86.0,6],[86.3,3],[86.6,5],[86.9,2],[87.2,4],[87.5,1],[87.8,4],[88.1,2],[88.4,5],[88.7,1],[89.0,4],[89.3,2],[89.6,5],[89.9,2],[90.0,3]
];

// phase markers [2θ, level in chart units]
const CAOH2_MARKS = [[17.9, 1474], [28.5, 1330], [34.2, 1619], [47.3, 1419], [51.0, 1349]];
const CACO3_MARKS = [[29.5, 1549], [39.3, 1312], [43.3, 1310]];
const C2S_MARKS = [[23.1, 1330], [31.0, 1282], [32.3, 1345], [54.5, 1300]];
const C3S_MARKS = [[32.3, 1382], [41.3, 1310], [62.2, 1314], [64.4, 1302]];
const AFT_MARKS = [[8.55, 1264], [11.5, 1250]];

// legend entries: [symbol, [text, subscript?] parts]
const LEGEND_ITEMS: [string, [string, boolean][]][] = [
  ["ring", [["Ca(OH)", false], ["2", true]]],
  ["square", [["CaCO", false], ["3", true]]],
  ["triangle", [["C", false], ["2", true], ["S", false]]],
  ["star", [["C", false], ["3", true], ["S", false]]],
  ["pentagon", [["AFt", false]]],
];
const LEGEND_ROW_Y = [62, 114, 165, 216, 273];

// label placement for each pattern name: [2θ, level]
const NAME_X = [91.9, 92.5, 92.4, 92.5, 92.6];
const NAME_Y = [1261, 1003, 770, 503, 275];

const X_TITLE = "2θ/ (°)";

// ---------------- symbols ----------------
function makeSymbol(kind: string): HTMLCanvasElement {
  const c = document.createElement("canvas");
  c.width = 32;
  c.height = 30;
  const g = c.getContext("2d")!;
  const cx = 16, cy = 15;
  g.fillStyle = "#000";
  g.strokeStyle = "#000";
  if (kind === "ring") {
    g.lineWidth = 6.5;
    g.beginPath();
    g.ellipse(cx, cy, 9.5, 8, 0, 0, Math.PI * 2);
    g.stroke();
  } else if (kind === "square") {
    g.fillRect(cx - 10.5, cy - 10.5, 21, 21);
    g.fillStyle = "#fff";
    g.fillRect(cx - 2.5, cy - 3, 5, 6);
  } else if (kind === "triangle") {
    g.beginPath();
    g.moveTo(cx, cy - 11);
    g.lineTo(cx + 14, cy + 10);
    g.lineTo(cx - 14, cy + 10);
    g.closePath();
    g.fill();
  } else if (kind === "star") {
    g.beginPath();
    for (let k = 0; k < 10; k++) {
      const r = k % 2 === 0 ? 14 : 6;
      const a = -Math.PI / 2 + (k * Math.PI) / 5;
      const px = cx + r * Math.cos(a);
      const py = cy + 1.5 + r * Math.sin(a);
      if (k === 0) g.moveTo(px, py);
      else g.lineTo(px, py);
    }
    g.closePath();
    g.fill();
  } else if (kind === "pentagon") {
    g.beginPath();
    for (let k = 0; k < 5; k++) {
      const a = -Math.PI / 2 + (k * 2 * Math.PI) / 5;
      const px = cx + 13 * Math.cos(a);
      const py = cy + 1 + 13 * Math.sin(a);
      if (k === 0) g.moveTo(px, py);
      else g.lineTo(px, py);
    }
    g.closePath();
    g.lineJoin = "round";
    g.lineWidth = 2;
    g.fill();
    g.stroke();
    g.fillStyle = "#fff";
    g.beginPath();
    g.arc(cx, cy + 1.5, 3.5, 0, Math.PI * 2);
    g.fill();
  }
  return c;
}

export default function App() {
  const ref = useRef<HTMLCanvasElement | null>(null);

  useEffect(() => {
    if (!ref.current) return;
    const syms: Record<string, HTMLCanvasElement> = {};
    ["ring", "square", "triangle", "star", "pentagon"].forEach((k) => (syms[k] = makeSymbol(k)));

    const series = [S0, S20, S40, S60, S80];
    const lineSets = series.map((s, i) => ({
      type: "line" as const,
      label: SERIES_NAMES[i],
      data: s.map(([x, y]) => ({ x, y: y + OFFSETS[i] })),
      borderColor: "#333",
      borderWidth: 2.2,
      pointRadius: 0,
      tension: 0,
      fill: false,
      borderJoinStyle: "round" as const,
      order: 2,
    }));
    const markDefs: [number[][], string, string][] = [
      [CAOH2_MARKS, "ring", "Ca(OH)2"],
      [CACO3_MARKS, "square", "CaCO3"],
      [C2S_MARKS, "triangle", "C2S"],
      [C3S_MARKS, "star", "C3S"],
      [AFT_MARKS, "pentagon", "AFt"],
    ];
    const markSets = markDefs.map(([pts, sym, name]) => ({
      type: "scatter" as const,
      label: name,
      data: pts.map(([x, y]) => ({ x, y })),
      pointStyle: syms[sym],
      pointRadius: 12,
      showLine: false,
      order: 1,
    }));

    const overlay = {
      id: "overlay",
      afterDraw(chart: any) {
        const ctx = chart.ctx;
        const xs = chart.scales.x;
        const ys = chart.scales.y;
        ctx.save();
        // pattern names
        ctx.fillStyle = "#222";
        ctx.font = 'bold 51px "Liberation Serif", "Times New Roman", serif';
        ctx.textAlign = "left";
        ctx.textBaseline = "middle";
        SERIES_NAMES.forEach((n, i) => {
          ctx.fillText(n, xs.getPixelForValue(NAME_X[i]), ys.getPixelForValue(NAME_Y[i]));
        });
        // axis title
        ctx.fillStyle = "#333";
        ctx.font = '44px "Liberation Sans", Arial, sans-serif';
        ctx.textAlign = "center";
        ctx.fillText(X_TITLE, xs.getPixelForValue(49.9), chart.chartArea.bottom + 100);
        // legend
        const lx = 1958, tx = 2000;
        LEGEND_ITEMS.forEach(([sym, parts], i) => {
          const y = LEGEND_ROW_Y[i];
          const img = syms[sym];
          ctx.drawImage(img, lx - img.width / 2, y - img.height / 2);
          let x = tx;
          ctx.textAlign = "left";
          ctx.fillStyle = "#444";
          parts.forEach(([t, sub]) => {
            if (sub) {
              ctx.font = '23px "Liberation Serif", "Times New Roman", serif';
              ctx.fillText(t, x, y + 7);
            } else {
              ctx.font = '36px "Liberation Serif", "Times New Roman", serif';
              ctx.fillText(t, x, y);
            }
            x += ctx.measureText(t).width;
          });
        });
        ctx.restore();
      },
    };

    const chart = new Chart(ref.current, {
      type: "line",
      data: { datasets: [...markSets, ...lineSets] as any },
      options: {
        animation: false,
        responsive: false,
        events: [],
        layout: { autoPadding: false, padding: { left: 31, right: 34, top: 0, bottom: 44 } },
        plugins: { legend: { display: false }, tooltip: { enabled: false }, title: { display: false } },
        scales: {
          x: {
            type: "linear",
            min: -2.65,
            max: 97.7,
            afterBuildTicks: (s: any) => {
              s.ticks = X_TICKS.map((v) => ({ value: v }));
            },
            grid: {
              display: true,
              drawOnChartArea: false,
              drawTicks: true,
              tickLength: 22,
              tickWidth: 2.5,
              tickColor: "#111",
            },
            border: { display: true, color: "#111", width: 4.5 },
            ticks: {
              autoSkip: false,
              maxRotation: 0,
              padding: 10,
              color: "#1a1a1a",
              font: { family: '"Liberation Sans", Arial, sans-serif', size: 49 },
              callback: (v: any) => String(v),
            },
          },
          y: { display: false, min: 0, max: 1667 },
        },
      },
      plugins: [overlay],
    });
    return () => chart.destroy();
  }, []);

  return (
    <div style={{ position: "fixed", left: 0, top: 0, width: 2377, height: 1811, background: "#fff" }}>
      <canvas ref={ref} width={2377} height={1811} style={{ width: 2377, height: 1811, display: "block" }} />
    </div>
  );
}
